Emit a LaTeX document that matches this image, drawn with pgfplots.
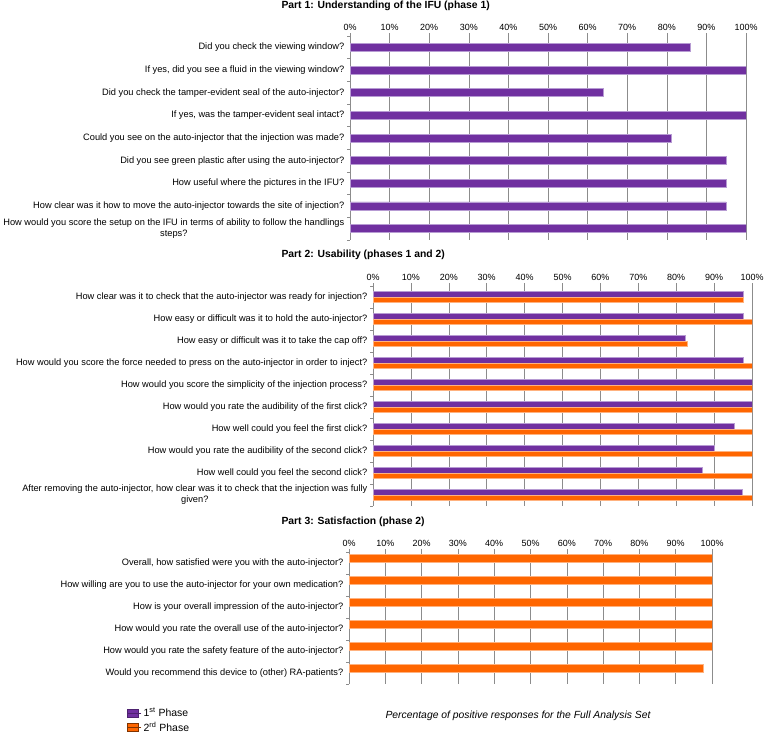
\documentclass[border=0pt]{standalone}
\usepackage{pgfplots}
\pgfplotsset{compat=1.18}
\usepackage{fontspec}
\setmainfont{Liberation Sans}
\definecolor{ph1}{HTML}{7030A0}
\definecolor{ph2}{HTML}{FF6600}
\definecolor{ph1e}{HTML}{B79BD3}
\definecolor{ph2e}{HTML}{FFB27F}
\definecolor{gridc}{HTML}{8C8C8C}
\pgfplotsset{
  chart/.style={
    scale only axis,
    xbar,
    xmin=0, xmax=100,
    y dir=reverse,
    axis x line*=top,
    axis y line*=left,
    x axis line style={draw=none},
    y axis line style={gridc, line width=0.6pt},
    xtick={0,10,...,100},
    xticklabel={\pgfmathprintnumber[assume math mode=true]{\tick}\%},
    xticklabel style={font=\fontsize{9}{10}\selectfont, yshift=-1bp},
    xmajorgrids,
    major grid style={gridc, line width=0.6pt},
    major x tick style={gridc, line width=0.6pt},
    major y tick style={draw=none},
    minor y tick style={gridc, line width=0.6pt},
    tick align=outside,
    major tick length=3bp,
    minor tick length=3bp,
    yticklabel style={font=\fontsize{9.3}{11}\selectfont, align=center, inner xsep=2.5bp},
    bar width=8bp,
  },
  p1/.style={fill=ph1, draw=ph1e, line width=0.5pt},
  p2/.style={fill=ph2, draw=ph2e, line width=0.5pt},
}
\begin{document}
\begin{tikzpicture}[x=1bp, y=1bp]
\useasboundingbox (0,0) rectangle (765,-735);

\node[anchor=west, font=\bfseries\fontsize{10.4}{12}\selectfont] at (278,-6) {Part 1: Understanding of the IFU (phase 1)};
\node[anchor=west, font=\bfseries\fontsize{10.4}{12}\selectfont] at (278,-255) {Part 2: Usability (phases 1 and 2)};
\node[anchor=west, font=\bfseries\fontsize{10.4}{12}\selectfont] at (278,-522) {Part 3: Satisfaction (phase 2)};

% Part 1
\begin{axis}[chart, at={(350bp,-36bp)}, anchor=north west, width=396bp, height=204bp,
  ymin=-0.5, ymax=8.5, ytick={0,...,8}, minor ytick={-0.5,0.5,...,8.5},
  yticklabels={
    {Did you check the viewing window?},
    {If yes, did you see a fluid in the viewing window?},
    {Did you check the tamper-evident seal of the auto-injector?},
    {If yes, was the tamper-evident seal intact?},
    {Could you see on the auto-injector that the injection was made?},
    {Did you see green plastic after using the auto-injector?},
    {How useful where the pictures in the IFU?},
    {How clear was it how to move the auto-injector towards the site of injection?},
    {How would you score the setup on the IFU in terms of ability to follow the handlings\\steps?}
  }]
\addplot[p1] coordinates {(86,0) (100,1) (64,2) (100,3) (81,4) (95,5) (95,6) (95,7) (100,8)};
\end{axis}

% Part 2
\begin{axis}[chart, at={(373bp,-286bp)}, anchor=north west, width=379bp, height=220bp,
  ymin=-0.5, ymax=9.5, ytick={0,...,9}, minor ytick={-0.5,0.5,...,9.5},
  bar width=5.5bp,
  yticklabels={
    {How clear was it to check that the auto-injector was ready for injection?},
    {How easy or difficult was it to hold the auto-injector?},
    {How easy or difficult was it to take the cap off?},
    {How would you score the force needed to press on the auto-injector in order to inject?},
    {How would you score the simplicity of the injection process?},
    {How would you rate the audibility of the first click?},
    {How well could you feel the first click?},
    {How would you rate the audibility of the second click?},
    {How well could you feel the second click?},
    {After removing the auto-injector, how clear was it to check that the injection was fully\\given?}
  }]
\addplot[p1, bar shift=2.75bp] coordinates {(97.6,0) (97.7,1) (82.4,2) (97.7,3) (100,4) (100,5) (95.4,6) (90,7) (87,8) (97.5,9)};
\addplot[p2, bar shift=-2.75bp] coordinates {(97.7,0) (100,1) (83,2) (100,3) (100,4) (100,5) (100,6) (100,7) (100,8) (100,9)};
\end{axis}

% Part 3
\begin{axis}[chart, at={(349bp,-552bp)}, anchor=north west, width=363bp, height=132bp,
  ymin=-0.5, ymax=5.5, ytick={0,...,5}, minor ytick={-0.5,0.5,...,5.5},
  yticklabels={
    {Overall, how satisfied were you with the auto-injector?},
    {How willing are you to use the auto-injector for your own medication?},
    {How is your overall impression of the auto-injector?},
    {How would you rate the overall use of the auto-injector?},
    {How would you rate the safety feature of the auto-injector?},
    {Would you recommend this device to (other) RA-patients?}
  },
  legend style={at={(axis description cs:-0.6116,-0.165)}, anchor=north west,
    draw=none, fill=none, inner sep=0pt, font=\fontsize{10.5}{11}\selectfont,
    row sep=0bp, cells={anchor=west}},
  legend image code/.code={\draw[#1] (0bp,-4bp) rectangle (11bp,4bp); \path (0bp,0bp) -- (14bp,0bp);},
  ]
\addlegendimage{fill=ph1, draw=ph1!70!black, line width=0.5pt}
\addlegendentry{1\textsuperscript{st} Phase}
\addplot[p2, forget plot] coordinates {(100,0) (100,1) (100,2) (100,3) (100,4) (97.5,5)};
\addlegendimage{fill=ph2, draw=ph2!50!black, line width=0.5pt}
\addlegendentry{2\textsuperscript{rd} Phase}
\end{axis}

\node[font=\itshape\fontsize{10.4}{12}\selectfont] at (518,-716) {Percentage of positive responses for the Full Analysis Set};
\end{tikzpicture}
\end{document}
